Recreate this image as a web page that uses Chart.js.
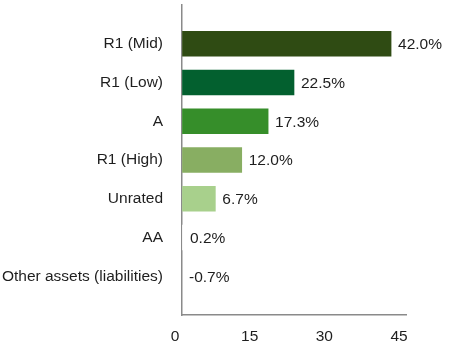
<!DOCTYPE html>
<html>
<head>
<meta charset="utf-8">
<script src="https://cdn.jsdelivr.net/npm/chart.js@4/dist/chart.umd.min.js"></script>
<style>
  html, body { margin: 0; padding: 0; background: #fff; }
  #wrap { width: 457px; height: 345px; position: relative; }
</style>
</head>
<body>
<div id="wrap"><canvas id="ratingChart"></canvas></div>
<script>
// portfolio split by credit rating, % of net assets
let ratings = ['R1 (Mid)', 'R1 (Low)', 'A', 'R1 (High)', 'Unrated', 'AA', 'Other assets (liabilities)'];
let weights = [42.0, 22.5, 17.3, 12.0, 6.7, 0.2, -0.7];
let barColors = ['#2f4b13', '#03602f', '#368e2a', '#88ae62', '#a8d08c', '#ffffff', '#ffffff'];
let xTicks = [0, 15, 30, 45];

let fontFamily = '"Liberation Sans", Arial, sans-serif';
let fontSize = 15.5;
let textColor = '#1e1e1e';
let axisColor = '#8a8a8a';

// percent labels just past the end of each bar (or past the axis for negatives)
let valueLabels = {
    id: 'valueLabels',
    afterDatasetsDraw(chart) {
        let ctx = chart.ctx;
        let xScale = chart.scales.x;
        let yScale = chart.scales.y;
        ctx.save();
        ctx.font = fontSize + 'px ' + fontFamily;
        ctx.fillStyle = textColor;
        ctx.textAlign = 'left';
        ctx.textBaseline = 'middle';
        weights.forEach((w, i) => {
            let x = xScale.getPixelForValue(Math.max(w, 0)) + 7;
            let y = yScale.getPixelForValue(i) + 1;
            ctx.fillText(w.toFixed(1) + '%', x, y);
        });
        ctx.restore();
    }
};

// keep the scales from padding the plot area for half-label overhangs
function noOverhang(scale) {
    scale.paddingTop = 0;
    scale.paddingBottom = 0;
    scale.paddingLeft = 0;
    scale.paddingRight = 0;
}

new Chart('ratingChart', {
    type: 'bar',
    data: {
        datasets: [{
            data: weights.map((w, i) => ({ x: w, y: i })),
            backgroundColor: barColors,
            barThickness: 25
        }]
    },
    options: {
        indexAxis: 'y',
        responsive: true,
        maintainAspectRatio: false,
        animation: false,
        layout: { padding: { top: 5, right: 51, left: 0, bottom: 0 } },
        plugins: {
            legend: { display: false },
            tooltip: { enabled: false }
        },
        scales: {
            x: {
                type: 'linear',
                min: 0,
                max: 45,
                afterBuildTicks: scale => { scale.ticks = xTicks.map(v => ({ value: v })); },
                afterFit: scale => { noOverhang(scale); scale.height = 30; },
                grid: { drawOnChartArea: false, drawTicks: true, tickLength: 12, tickColor: 'rgba(0,0,0,0)' },
                border: { display: true, color: axisColor, width: 1.5 },
                ticks: {
                    font: { family: fontFamily, size: fontSize },
                    color: textColor,
                    padding: 0,
                    labelOffset: -7,
                    maxRotation: 0
                }
            },
            y: {
                type: 'linear',
                reverse: true,
                offset: false,
                min: -1,
                max: 7,
                grid: { drawOnChartArea: false, offset: false, drawTicks: true, tickLength: 19, tickColor: 'rgba(0,0,0,0)' },
                border: { display: true, color: axisColor, width: 1.5 },
                afterFit: scale => { noOverhang(scale); scale.width = 182; },
                ticks: {
                    stepSize: 1,
                    autoSkip: false,
                    font: { family: fontFamily, size: fontSize },
                    color: textColor,
                    padding: 0,
                    callback: v => ratings[v] !== undefined ? ratings[v] : ''
                }
            }
        }
    },
    plugins: [valueLabels]
});
</script>
</body>
</html>
